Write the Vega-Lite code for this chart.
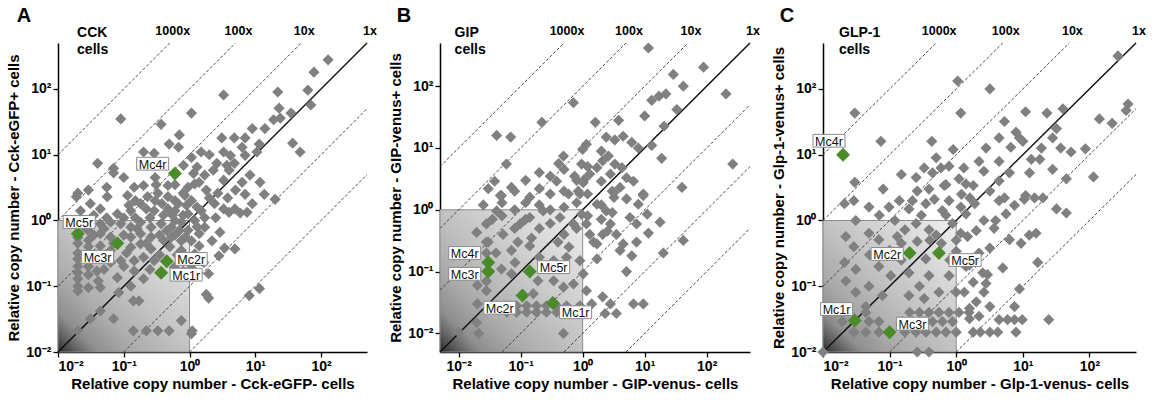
{
"$schema":"https://vega.github.io/schema/vega-lite/v6.json",
"background":"white",
"padding":{"left":6,"top":6,"right":4,"bottom":4},
"bounds":"flush",
"spacing":73,
"config":{"view":{"stroke":null},"font":"Liberation Sans",
"axis":{"domainColor":"#000","domainWidth":1.5,"tickColor":"#000","tickWidth":1.3,"tickSize":5,"labelFont":"Liberation Sans","labelFontSize":14,"labelFontWeight":"bold","labelColor":"#000","titleFont":"Liberation Sans","titleFontSize":15,"titleFontWeight":"bold","titleColor":"#000","grid":false,"labelPadding":2},
"axisX":{"titlePadding":3},"axisY":{"titlePadding":4},
"title":{"anchor":"start","frame":"bounds","fontSize":20,"fontWeight":"bold","font":"Liberation Sans","offset":-1,"color":"#000"}},
"datasets":{
"box":[{"p":"A","x":0.01,"y":0.01,"x2":1,"y2":1},{"p":"B","x":0.005,"y":0.005,"x2":1,"y2":1},{"p":"C","x":0.01,"y":0.01,"x2":1,"y2":1}],
"diag":[
{"p":"A","k":"1000x","x":0.01,"y":10,"x2":0.5,"y2":500,"style":"dashed"},
{"p":"A","k":"100x","x":0.01,"y":1,"x2":5,"y2":500,"style":"dashed"},
{"p":"A","k":"10x","x":0.01,"y":0.1,"x2":50,"y2":500,"style":"dashed"},
{"p":"A","k":"1x","x":0.01,"y":0.01,"x2":500,"y2":500,"style":"solid"},
{"p":"A","k":"0.1x","x":0.1,"y":0.01,"x2":500,"y2":50,"style":"dashed"},
{"p":"A","k":"0.01x","x":1,"y":0.01,"x2":500,"y2":5,"style":"dashed"},
{"p":"B","k":"1000x","x":0.005,"y":5,"x2":0.5,"y2":500,"style":"dashed"},
{"p":"B","k":"100x","x":0.005,"y":0.5,"x2":5,"y2":500,"style":"dashed"},
{"p":"B","k":"10x","x":0.005,"y":0.05,"x2":50,"y2":500,"style":"dashed"},
{"p":"B","k":"1x","x":0.005,"y":0.005,"x2":500,"y2":500,"style":"solid"},
{"p":"B","k":"0.1x","x":0.05,"y":0.005,"x2":500,"y2":50,"style":"dashed"},
{"p":"B","k":"0.01x","x":0.5,"y":0.005,"x2":500,"y2":5,"style":"dashed"},
{"p":"B","k":"0.001x","x":5,"y":0.005,"x2":500,"y2":0.5,"style":"dashed"},
{"p":"C","k":"1000x","x":0.01,"y":10,"x2":0.5,"y2":500,"style":"dashed"},
{"p":"C","k":"100x","x":0.01,"y":1,"x2":5,"y2":500,"style":"dashed"},
{"p":"C","k":"10x","x":0.01,"y":0.1,"x2":50,"y2":500,"style":"dashed"},
{"p":"C","k":"1x","x":0.01,"y":0.01,"x2":500,"y2":500,"style":"solid"},
{"p":"C","k":"0.1x","x":0.1,"y":0.01,"x2":500,"y2":50,"style":"dashed"},
{"p":"C","k":"0.01x","x":1,"y":0.01,"x2":500,"y2":5,"style":"dashed"}],
"diaglab":[
{"p":"A","label":"1000x","x":0.5,"y":500},{"p":"A","label":"100x","x":5,"y":500},{"p":"A","label":"10x","x":50,"y":500},{"p":"A","label":"1x","x":500,"y":500},
{"p":"B","label":"1000x","x":0.5,"y":500},{"p":"B","label":"100x","x":5,"y":500},{"p":"B","label":"10x","x":50,"y":500},{"p":"B","label":"1x","x":500,"y":500},
{"p":"C","label":"1000x","x":0.5,"y":500},{"p":"C","label":"100x","x":5,"y":500},{"p":"C","label":"10x","x":50,"y":500},{"p":"C","label":"1x","x":500,"y":500}],
"cell":[{"p":"A","label":"CCK\ncells","x":0.0195,"y":500},{"p":"B","label":"GIP\ncells","x":0.0086,"y":500},{"p":"C","label":"GLP-1\ncells","x":0.0174,"y":500}],
"mc":[
{"p":"A","gene":"Mc4r","x":0.6,"y":5.2},{"p":"A","gene":"Mc5r","x":0.02,"y":0.63},{"p":"A","gene":"Mc3r","x":0.08,"y":0.45},{"p":"A","gene":"Mc2r","x":0.45,"y":0.24},{"p":"A","gene":"Mc1r","x":0.37,"y":0.16},
{"p":"B","gene":"Mc4r","x":0.03,"y":0.14},{"p":"B","gene":"Mc3r","x":0.03,"y":0.1},{"p":"B","gene":"Mc5r","x":0.14,"y":0.1},{"p":"B","gene":"Mc2r","x":0.107,"y":0.041},{"p":"B","gene":"Mc1r","x":0.33,"y":0.031},
{"p":"C","gene":"Mc4r","x":0.02,"y":10},{"p":"C","gene":"Mc2r","x":0.2,"y":0.32},{"p":"C","gene":"Mc5r","x":0.55,"y":0.32},{"p":"C","gene":"Mc1r","x":0.03,"y":0.03},{"p":"C","gene":"Mc3r","x":0.1,"y":0.02}],
"mclab":[
{"p":"A","gene":"Mc4r","x":0.275,"y":7.3},{"p":"A","gene":"Mc5r","x":0.021,"y":0.95},{"p":"A","gene":"Mc3r","x":0.04,"y":0.28},{"p":"A","gene":"Mc2r","x":1.06,"y":0.26},{"p":"A","gene":"Mc1r","x":0.89,"y":0.15},
{"p":"B","gene":"Mc4r","x":0.0125,"y":0.2},{"p":"B","gene":"Mc3r","x":0.0125,"y":0.092},{"p":"B","gene":"Mc5r","x":0.34,"y":0.118},{"p":"B","gene":"Mc2r","x":0.046,"y":0.026},{"p":"B","gene":"Mc1r","x":0.77,"y":0.022},
{"p":"C","gene":"Mc4r","x":0.0123,"y":16.3},{"p":"C","gene":"Mc2r","x":0.092,"y":0.31},{"p":"C","gene":"Mc5r","x":1.36,"y":0.25},{"p":"C","gene":"Mc1r","x":0.016,"y":0.045},{"p":"C","gene":"Mc3r","x":0.22,"y":0.027}],
"pts":[
{"p":"A","x":0.09,"y":35},{"p":"A","x":1.07,"y":43},{"p":"A","x":0.37,"y":29},{"p":"A","x":0.7,"y":20},{"p":"A","x":0.49,"y":14.5},{"p":"A","x":0.68,"y":13},{"p":"A","x":0.2,"y":11},{"p":"A","x":0.29,"y":10.5},{"p":"A","x":0.04,"y":7.4},{"p":"A","x":0.07,"y":6.2},{"p":"A","x":0.07,"y":5.3},{"p":"A","x":0.81,"y":6.9},{"p":"A","x":1.15,"y":5.2},{"p":"A","x":0.2,"y":3.4},{"p":"A","x":0.31,"y":3.5},{"p":"A","x":1.2,"y":3.6},{"p":"A","x":0.02,"y":2.6},{"p":"A","x":0.029,"y":2.9},{"p":"A","x":0.8,"y":2.6},
{"p":"A","x":128,"y":277},{"p":"A","x":78,"y":180},{"p":"A","x":63,"y":96},{"p":"A","x":22,"y":90},{"p":"A","x":3.3,"y":81},{"p":"A","x":70,"y":57},{"p":"A","x":23,"y":51},{"p":"A","x":35,"y":43},{"p":"A","x":24,"y":36},{"p":"A","x":19,"y":34},{"p":"A","x":14,"y":25},{"p":"A","x":9,"y":25},{"p":"A","x":11.5,"y":14.5},{"p":"A","x":7,"y":18},{"p":"A","x":4.8,"y":18},{"p":"A","x":3.1,"y":18},{"p":"A","x":6.3,"y":13},{"p":"A","x":37,"y":15},{"p":"A","x":48,"y":11},{"p":"A","x":1.5,"y":11},{"p":"A","x":2,"y":10},{"p":"A","x":3.3,"y":11},{"p":"A","x":4.2,"y":9.7},{"p":"A","x":1.07,"y":9.1},{"p":"A","x":2.6,"y":7.4},{"p":"A","x":1.3,"y":6.5},{"p":"A","x":4.8,"y":7.4},{"p":"A","x":7,"y":9.8},{"p":"A","x":10.6,"y":11},{"p":"A","x":3.7,"y":6.9},{"p":"A","x":2.3,"y":5.8},{"p":"A","x":1.7,"y":4.9},{"p":"A","x":6.3,"y":3.8},{"p":"A","x":8.3,"y":4.9},{"p":"A","x":11.8,"y":3.8},{"p":"A","x":7,"y":2.5},{"p":"A","x":13.7,"y":2.5},{"p":"A","x":20,"y":2.1},{"p":"A","x":1.4,"y":3.8},{"p":"A","x":3.3,"y":4.1},{"p":"A","x":4,"y":5.8},{"p":"A","x":1.8,"y":2.9},
{"p":"A","x":5.9,"y":1.3},{"p":"A","x":7.5,"y":1.33},{"p":"A","x":4,"y":1.33},{"p":"A","x":2.9,"y":0.66},{"p":"A","x":4.9,"y":0.37},{"p":"A","x":3.4,"y":0.38},{"p":"A","x":2.8,"y":0.29},{"p":"A","x":2.2,"y":0.49},{"p":"A","x":1.95,"y":0.155},{"p":"A","x":1.95,"y":0.066},{"p":"A","x":1.8,"y":0.075},{"p":"A","x":8.1,"y":0.072},{"p":"A","x":11.6,"y":0.092},{"p":"A","x":1.07,"y":0.019},
{"p":"A","x":0.044,"y":0.89},{"p":"A","x":0.063,"y":0.94},{"p":"A","x":0.09,"y":0.89},{"p":"A","x":0.128,"y":0.79},{"p":"A","x":0.18,"y":0.94},{"p":"A","x":0.26,"y":0.79},{"p":"A","x":0.37,"y":0.89},{"p":"A","x":0.53,"y":0.79},{"p":"A","x":0.75,"y":0.94},{"p":"A","x":0.95,"y":0.71},{"p":"A","x":0.044,"y":0.63},{"p":"A","x":0.063,"y":0.56},{"p":"A","x":0.128,"y":0.56},{"p":"A","x":0.18,"y":0.63},{"p":"A","x":0.26,"y":0.56},{"p":"A","x":0.53,"y":0.56},{"p":"A","x":0.75,"y":0.49},{"p":"A","x":0.044,"y":0.41},{"p":"A","x":0.063,"y":0.35},{"p":"A","x":0.128,"y":0.39},{"p":"A","x":0.18,"y":0.44},{"p":"A","x":0.26,"y":0.37},{"p":"A","x":0.75,"y":0.35},{"p":"A","x":0.95,"y":0.275},{"p":"A","x":0.044,"y":0.275},{"p":"A","x":0.063,"y":0.23},{"p":"A","x":0.09,"y":0.245},{"p":"A","x":0.144,"y":0.245},{"p":"A","x":0.2,"y":0.275},{"p":"A","x":0.29,"y":0.245},{"p":"A","x":0.59,"y":0.195},{"p":"A","x":0.8,"y":0.17},{"p":"A","x":0.039,"y":0.17},{"p":"A","x":0.144,"y":0.17},{"p":"A","x":0.08,"y":0.135},{"p":"A","x":0.2,"y":0.13},{"p":"A","x":0.128,"y":0.1},{"p":"A","x":0.044,"y":0.096},
{"p":"A","x":0.022,"y":1.4},{"p":"A","x":0.031,"y":1.8},{"p":"A","x":0.044,"y":1.5},{"p":"A","x":0.08,"y":1.26},{"p":"A","x":0.128,"y":1.4},{"p":"A","x":0.18,"y":1.8},{"p":"A","x":0.29,"y":1.4},{"p":"A","x":0.47,"y":1.5},{"p":"A","x":0.67,"y":1.8},{"p":"A","x":0.95,"y":1.26},{"p":"A","x":0.019,"y":2.3},{"p":"A","x":0.056,"y":2.3},{"p":"A","x":0.114,"y":2.4},{"p":"A","x":0.23,"y":2.3},{"p":"A","x":0.47,"y":2.3},{"p":"A","x":0.85,"y":2.4},
{"p":"A","x":0.144,"y":3.2},{"p":"A","x":0.33,"y":2.6},{"p":"A","x":0.47,"y":3.4},{"p":"A","x":0.95,"y":3.2},
{"p":"A","x":1.07,"y":2.0},{"p":"A","x":1.5,"y":1.4},{"p":"A","x":1.2,"y":1.0},{"p":"A","x":1.7,"y":0.79},{"p":"A","x":1.4,"y":0.63},{"p":"A","x":1.07,"y":0.49},{"p":"A","x":1.4,"y":0.41},{"p":"A","x":1.2,"y":0.31},{"p":"A","x":1.65,"y":0.23},{"p":"A","x":1.07,"y":0.19},{"p":"A","x":2.4,"y":1.8},{"p":"A","x":3.3,"y":1.5},{"p":"A","x":4.9,"y":1.5},
{"p":"A","x":0.02,"y":0.55},{"p":"A","x":0.02,"y":0.45},{"p":"A","x":0.02,"y":0.32},{"p":"A","x":0.02,"y":0.26},{"p":"A","x":0.02,"y":0.2},{"p":"A","x":0.02,"y":0.16},{"p":"A","x":0.02,"y":0.13},{"p":"A","x":0.02,"y":0.1},{"p":"A","x":0.02,"y":0.085},
{"p":"A","x":0.029,"y":0.9},{"p":"A","x":0.029,"y":0.7},{"p":"A","x":0.029,"y":0.5},{"p":"A","x":0.029,"y":0.4},{"p":"A","x":0.029,"y":0.3},{"p":"A","x":0.029,"y":0.25},{"p":"A","x":0.029,"y":0.2},
{"p":"A","x":0.02,"y":0.021},{"p":"A","x":0.031,"y":0.032},{"p":"A","x":0.044,"y":0.042},{"p":"A","x":0.07,"y":0.032},{"p":"A","x":0.084,"y":0.08},{"p":"A","x":0.14,"y":0.06},{"p":"A","x":0.17,"y":0.06},{"p":"A","x":0.14,"y":0.021},{"p":"A","x":0.22,"y":0.021},{"p":"A","x":0.33,"y":0.021},{"p":"A","x":0.49,"y":0.021},{"p":"A","x":0.75,"y":0.03},{"p":"A","x":1.1,"y":0.021},{"p":"A","x":0.029,"y":0.095},{"p":"A","x":0.041,"y":0.12},{"p":"A","x":0.029,"y":0.15},
{"p":"A","x":0.1,"y":0.6},{"p":"A","x":0.1,"y":1.1},{"p":"A","x":0.35,"y":0.6},{"p":"A","x":0.4,"y":1.2},{"p":"A","x":0.6,"y":1.0},{"p":"A","x":0.6,"y":0.6},{"p":"A","x":0.35,"y":0.3},{"p":"A","x":0.5,"y":0.4},{"p":"A","x":0.7,"y":0.7},{"p":"A","x":0.25,"y":1.1},{"p":"A","x":0.15,"y":1.1},{"p":"A","x":0.055,"y":1.1},{"p":"A","x":0.035,"y":1.2},{"p":"A","x":0.6,"y":1.4},{"p":"A","x":0.8,"y":1.2},{"p":"A","x":0.3,"y":2.0},{"p":"A","x":0.6,"y":2.0},{"p":"A","x":0.15,"y":2.0},{"p":"A","x":1.3,"y":1.6},{"p":"A","x":2,"y":2.2},{"p":"A","x":2.7,"y":2.6},{"p":"A","x":3.8,"y":2.2},{"p":"A","x":1.7,"y":1.1},{"p":"A","x":2.5,"y":1.1},{"p":"A","x":5,"y":2.9},{"p":"A","x":9,"y":1.8},
{"p":"A","x":0.025,"y":1.0},{"p":"A","x":0.025,"y":0.8},{"p":"A","x":0.035,"y":0.6},{"p":"A","x":0.05,"y":0.75},{"p":"A","x":0.07,"y":0.45},{"p":"A","x":0.11,"y":0.32},{"p":"A","x":0.16,"y":0.75},{"p":"A","x":0.22,"y":0.45},{"p":"A","x":0.4,"y":0.5},{"p":"A","x":0.45,"y":0.7},{"p":"A","x":0.65,"y":0.3},{"p":"A","x":0.85,"y":0.55},{"p":"A","x":0.12,"y":1.7},{"p":"A","x":0.22,"y":1.5},{"p":"A","x":0.38,"y":1.8},{"p":"A","x":0.55,"y":1.2},{"p":"A","x":1.3,"y":0.8},{"p":"A","x":0.9,"y":1.7},{"p":"A","x":0.05,"y":0.18},{"p":"A","x":0.1,"y":0.2},{"p":"A","x":0.25,"y":0.18},{"p":"A","x":0.055,"y":3.2},{"p":"A","x":0.1,"y":4.5},{"p":"A","x":0.3,"y":4.5},{"p":"A","x":0.6,"y":3.5},
{"p":"B","x":0.71,"y":54},{"p":"B","x":0.22,"y":26},{"p":"B","x":0.041,"y":16},{"p":"B","x":0.069,"y":15},{"p":"B","x":0.059,"y":5.5},{"p":"B","x":0.49,"y":7.4},{"p":"B","x":0.41,"y":5.6},{"p":"B","x":0.038,"y":2.9},{"p":"B","x":0.03,"y":2.2},{"p":"B","x":0.049,"y":1.7},{"p":"B","x":0.071,"y":2.3},{"p":"B","x":0.14,"y":1.6},{"p":"B","x":0.38,"y":2.9},{"p":"B","x":0.74,"y":3.5},{"p":"B","x":1.0,"y":9.5},{"p":"B","x":0.96,"y":5.5},{"p":"B","x":0.85,"y":2.0},{"p":"B","x":0.59,"y":1.8},{"p":"B","x":1.06,"y":3.1},
{"p":"B","x":11.5,"y":415},{"p":"B","x":89,"y":203},{"p":"B","x":29,"y":155},{"p":"B","x":42,"y":100},{"p":"B","x":205,"y":75},{"p":"B","x":22,"y":75},{"p":"B","x":17,"y":69},{"p":"B","x":13,"y":59},{"p":"B","x":33,"y":42},{"p":"B","x":10,"y":33},{"p":"B","x":3.8,"y":28},{"p":"B","x":1.6,"y":26},{"p":"B","x":20.5,"y":22.5},{"p":"B","x":1.15,"y":11.5},{"p":"B","x":2.4,"y":15},{"p":"B","x":3.3,"y":13.5},{"p":"B","x":4.5,"y":15.5},{"p":"B","x":6.2,"y":12.3},{"p":"B","x":7.9,"y":10},{"p":"B","x":13,"y":11},{"p":"B","x":18.8,"y":6.8},{"p":"B","x":263,"y":5.5},{"p":"B","x":2.0,"y":8.9},{"p":"B","x":2.6,"y":7.4},{"p":"B","x":2.1,"y":6.2},{"p":"B","x":1.7,"y":4.8},{"p":"B","x":3.3,"y":5.5},{"p":"B","x":2.8,"y":3.8},{"p":"B","x":4.3,"y":4.8},{"p":"B","x":5.1,"y":3.3},{"p":"B","x":6.6,"y":2.9},{"p":"B","x":4.0,"y":2.3},{"p":"B","x":3.2,"y":1.9},{"p":"B","x":2.0,"y":2.9},{"p":"B","x":1.3,"y":3.8},{"p":"B","x":1.02,"y":2.75},{"p":"B","x":0.9,"y":1.8},{"p":"B","x":9.5,"y":1.7},{"p":"B","x":40,"y":2.3},
{"p":"B","x":0.047,"y":1.7},{"p":"B","x":0.0195,"y":0.43},{"p":"B","x":0.052,"y":0.4},{"p":"B","x":0.098,"y":0.59},{"p":"B","x":0.14,"y":0.75},{"p":"B","x":0.23,"y":0.96},{"p":"B","x":0.43,"y":0.75},{"p":"B","x":0.71,"y":0.59},{"p":"B","x":0.96,"y":0.85},{"p":"B","x":0.041,"y":0.96},{"p":"B","x":0.028,"y":0.59},{"p":"B","x":0.071,"y":0.22},{"p":"B","x":0.14,"y":0.26},{"p":"B","x":0.2,"y":0.17},{"p":"B","x":0.34,"y":0.15},{"p":"B","x":0.55,"y":0.17},{"p":"B","x":0.9,"y":0.15},{"p":"B","x":0.081,"y":0.14},{"p":"B","x":0.049,"y":0.11},{"p":"B","x":0.071,"y":0.092},{"p":"B","x":0.19,"y":0.071},{"p":"B","x":0.34,"y":0.071},{"p":"B","x":0.49,"y":0.056},{"p":"B","x":0.71,"y":0.063},{"p":"B","x":1.02,"y":0.092},{"p":"B","x":0.0195,"y":0.015},{"p":"B","x":0.16,"y":0.044},{"p":"B","x":0.01,"y":0.0105},{"p":"B","x":0.021,"y":0.01},{"p":"B","x":0.49,"y":0.01},{"p":"B","x":0.02,"y":0.03},{"p":"B","x":0.028,"y":0.049},
{"p":"B","x":0.041,"y":0.028},{"p":"B","x":0.06,"y":0.028},{"p":"B","x":0.086,"y":0.028},{"p":"B","x":0.125,"y":0.028},{"p":"B","x":0.18,"y":0.028},{"p":"B","x":0.26,"y":0.028},{"p":"B","x":0.38,"y":0.028},{"p":"B","x":0.55,"y":0.028},{"p":"B","x":0.9,"y":0.028},
{"p":"B","x":0.06,"y":0.022},{"p":"B","x":0.086,"y":0.022},{"p":"B","x":0.125,"y":0.022},{"p":"B","x":0.18,"y":0.022},{"p":"B","x":0.26,"y":0.022},{"p":"B","x":0.38,"y":0.022},
{"p":"B","x":17.7,"y":0.63},{"p":"B","x":11.5,"y":0.42},{"p":"B","x":42,"y":0.32},{"p":"B","x":7.4,"y":0.3},{"p":"B","x":4.0,"y":0.22},{"p":"B","x":6.2,"y":0.18},{"p":"B","x":20,"y":0.2},{"p":"B","x":5.1,"y":0.1},{"p":"B","x":1.7,"y":0.16},{"p":"B","x":6.6,"y":0.03},{"p":"B","x":9.5,"y":0.03},{"p":"B","x":2.8,"y":0.03},{"p":"B","x":2.1,"y":0.039},{"p":"B","x":3.5,"y":0.021},{"p":"B","x":2.3,"y":0.021},{"p":"B","x":1.15,"y":0.049},{"p":"B","x":1.4,"y":0.03},
{"p":"B","x":1.7,"y":0.28},{"p":"B","x":2.1,"y":0.4},{"p":"B","x":2.8,"y":0.59},{"p":"B","x":3.5,"y":0.4},{"p":"B","x":4.5,"y":0.28},{"p":"B","x":2.4,"y":0.96},{"p":"B","x":1.7,"y":1.23},{"p":"B","x":3.2,"y":1.58},{"p":"B","x":5.1,"y":1.5},{"p":"B","x":7.9,"y":1.23},{"p":"B","x":9.5,"y":1.8},{"p":"B","x":5.8,"y":0.75},{"p":"B","x":11,"y":0.85},{"p":"B","x":7.4,"y":0.59},{"p":"B","x":1.15,"y":0.59},{"p":"B","x":1.3,"y":0.4},
{"p":"B","x":0.05,"y":0.8},{"p":"B","x":0.05,"y":1.3},{"p":"B","x":0.08,"y":0.5},{"p":"B","x":0.08,"y":1},{"p":"B","x":0.08,"y":2},{"p":"B","x":0.12,"y":0.7},{"p":"B","x":0.12,"y":1.3},{"p":"B","x":0.12,"y":3},{"p":"B","x":0.2,"y":0.5},{"p":"B","x":0.2,"y":1.2},{"p":"B","x":0.2,"y":2.2},{"p":"B","x":0.2,"y":4},{"p":"B","x":0.3,"y":0.6},{"p":"B","x":0.3,"y":1},{"p":"B","x":0.3,"y":1.8},{"p":"B","x":0.3,"y":3.5},{"p":"B","x":0.5,"y":0.4},{"p":"B","x":0.5,"y":1.1},{"p":"B","x":0.5,"y":2},{"p":"B","x":0.5,"y":4.5},{"p":"B","x":0.8,"y":0.5},{"p":"B","x":0.8,"y":1.3},{"p":"B","x":0.8,"y":3},{"p":"B","x":1.2,"y":0.8},{"p":"B","x":1.2,"y":1.8},{"p":"B","x":1.2,"y":5},{"p":"B","x":2,"y":1.2},{"p":"B","x":2,"y":0.7},{"p":"B","x":3,"y":2},{"p":"B","x":3,"y":0.9},{"p":"B","x":0.15,"y":0.35},{"p":"B","x":0.4,"y":0.3},{"p":"B","x":0.6,"y":0.25},{"p":"B","x":1.5,"y":0.3},{"p":"B","x":2.5,"y":0.45},{"p":"B","x":0.03,"y":0.3},{"p":"B","x":0.035,"y":0.7},{"p":"B","x":0.025,"y":1.2},{"p":"B","x":0.04,"y":0.2},{"p":"B","x":0.09,"y":0.3},{"p":"B","x":0.028,"y":0.2},{"p":"B","x":0.028,"y":0.3},{"p":"B","x":0.02,"y":0.06},{"p":"B","x":0.028,"y":0.07},
{"p":"C","x":0.03,"y":43},{"p":"C","x":0.074,"y":16},{"p":"C","x":0.03,"y":3.8},{"p":"C","x":1.05,"y":132},{"p":"C","x":1.17,"y":43},{"p":"C","x":0.43,"y":16},{"p":"C","x":0.33,"y":6.3},{"p":"C","x":0.25,"y":4.5},{"p":"C","x":0.44,"y":5.3},{"p":"C","x":0.59,"y":6.3},{"p":"C","x":0.78,"y":6.7},{"p":"C","x":1.3,"y":6.3},{"p":"C","x":0.39,"y":3.0},{"p":"C","x":0.26,"y":2.8},{"p":"C","x":0.66,"y":3.4},{"p":"C","x":1.1,"y":4.3},{"p":"C","x":1.4,"y":3.6},{"p":"C","x":0.22,"y":2.0},
{"p":"C","x":268,"y":318},{"p":"C","x":3.2,"y":100},{"p":"C","x":11,"y":45},{"p":"C","x":23,"y":43},{"p":"C","x":40,"y":50},{"p":"C","x":380,"y":59},{"p":"C","x":355,"y":47},{"p":"C","x":141,"y":35},{"p":"C","x":219,"y":30},{"p":"C","x":5.3,"y":32},{"p":"C","x":4.4,"y":18},{"p":"C","x":7.9,"y":22},{"p":"C","x":8.9,"y":18},{"p":"C","x":10,"y":16},{"p":"C","x":6.6,"y":13},{"p":"C","x":2.8,"y":12.6},{"p":"C","x":32,"y":25},{"p":"C","x":28,"y":18},{"p":"C","x":19,"y":12.6},{"p":"C","x":37,"y":12.6},{"p":"C","x":53,"y":11},{"p":"C","x":87,"y":12.3},{"p":"C","x":18,"y":8.5},{"p":"C","x":13.4,"y":8.5},{"p":"C","x":28,"y":6},{"p":"C","x":45,"y":4.3},{"p":"C","x":115,"y":4.6},{"p":"C","x":12.6,"y":5.3},{"p":"C","x":6.3,"y":5.3},{"p":"C","x":4.4,"y":7.9},{"p":"C","x":2.2,"y":7.9},{"p":"C","x":2.6,"y":5.6},{"p":"C","x":1.8,"y":3.4},{"p":"C","x":3.2,"y":2.8},{"p":"C","x":5.3,"y":2.2},{"p":"C","x":11,"y":2.4},{"p":"C","x":15,"y":2.2},{"p":"C","x":4.4,"y":4.0},
{"p":"C","x":32,"y":1.5},{"p":"C","x":45,"y":1.3},{"p":"C","x":16.7,"y":0.23},{"p":"C","x":5.0,"y":0.19},{"p":"C","x":8.9,"y":0.091},{"p":"C","x":7.5,"y":0.049},{"p":"C","x":24.5,"y":0.031},{"p":"C","x":7.9,"y":0.02},{"p":"C","x":12.5,"y":0.6},{"p":"C","x":15.8,"y":0.64},{"p":"C","x":9.4,"y":0.45},{"p":"C","x":6.3,"y":0.51},{"p":"C","x":3.7,"y":0.76},{"p":"C","x":2.95,"y":0.15},{"p":"C","x":2.8,"y":0.11},{"p":"C","x":2.6,"y":0.081},{"p":"C","x":2.0,"y":0.058},{"p":"C","x":3.2,"y":0.049},{"p":"C","x":4.4,"y":0.031},{"p":"C","x":5.9,"y":0.031},{"p":"C","x":7.5,"y":0.031},{"p":"C","x":9.8,"y":0.031},{"p":"C","x":1.8,"y":0.02},{"p":"C","x":2.3,"y":0.02},{"p":"C","x":3.2,"y":0.02},{"p":"C","x":4.2,"y":0.02},
{"p":"C","x":1.58,"y":0.032},{"p":"C","x":2.2,"y":0.035},{"p":"C","x":1.58,"y":0.046},{"p":"C","x":1.32,"y":0.081},{"p":"C","x":1.8,"y":0.115},{"p":"C","x":2.5,"y":0.16},{"p":"C","x":1.58,"y":0.21},{"p":"C","x":2.2,"y":0.32},{"p":"C","x":3.2,"y":0.38},{"p":"C","x":2.6,"y":1.0},{"p":"C","x":3.9,"y":1.0},{"p":"C","x":5.6,"y":1.26},{"p":"C","x":1.4,"y":1.26},{"p":"C","x":1.9,"y":1.8},{"p":"C","x":4.4,"y":2.0},{"p":"C","x":20,"y":2.2},{"p":"C","x":10.5,"y":2.1},{"p":"C","x":7.5,"y":1.7},
{"p":"C","x":0.021,"y":1.8},{"p":"C","x":0.031,"y":1.0},{"p":"C","x":0.022,"y":0.57},{"p":"C","x":0.029,"y":0.4},{"p":"C","x":0.021,"y":0.23},{"p":"C","x":0.031,"y":0.18},{"p":"C","x":0.049,"y":0.64},{"p":"C","x":0.069,"y":0.51},{"p":"C","x":0.098,"y":1.6},{"p":"C","x":0.13,"y":0.57},{"p":"C","x":0.17,"y":0.72},{"p":"C","x":0.26,"y":0.48},{"p":"C","x":0.39,"y":0.72},{"p":"C","x":0.62,"y":1.42},{"p":"C","x":0.88,"y":0.9},{"p":"C","x":1.17,"y":0.64},{"p":"C","x":1.17,"y":1.6},{"p":"C","x":1.48,"y":0.57},{"p":"C","x":0.069,"y":0.2},{"p":"C","x":0.104,"y":0.145},{"p":"C","x":0.195,"y":0.16},{"p":"C","x":0.28,"y":0.1},{"p":"C","x":0.39,"y":0.145},{"p":"C","x":0.78,"y":0.145},{"p":"C","x":1.4,"y":0.2},{"p":"C","x":0.049,"y":0.1},{"p":"C","x":0.031,"y":0.081},{"p":"C","x":0.078,"y":0.072},{"p":"C","x":0.195,"y":0.072},{"p":"C","x":0.33,"y":0.065},{"p":"C","x":0.55,"y":0.081},{"p":"C","x":1.0,"y":0.081},{"p":"C","x":1.0,"y":0.34},{"p":"C","x":0.35,"y":0.26},{"p":"C","x":0.022,"y":0.12},{"p":"C","x":0.044,"y":0.049},
{"p":"C","x":0.029,"y":2.0},{"p":"C","x":0.049,"y":1.6},{"p":"C","x":0.14,"y":2.0},{"p":"C","x":0.195,"y":1.5},{"p":"C","x":0.35,"y":1.8},{"p":"C","x":0.47,"y":2.1},{"p":"C","x":0.78,"y":2.0},{"p":"C","x":1.6,"y":2.2},
{"p":"C","x":0.029,"y":0.02},{"p":"C","x":0.044,"y":0.02},{"p":"C","x":0.069,"y":0.02},{"p":"C","x":0.17,"y":0.02},{"p":"C","x":0.25,"y":0.02},{"p":"C","x":0.35,"y":0.02},{"p":"C","x":0.5,"y":0.02},{"p":"C","x":0.7,"y":0.02},{"p":"C","x":1.0,"y":0.02},
{"p":"C","x":0.0195,"y":0.029},{"p":"C","x":0.049,"y":0.029},{"p":"C","x":0.069,"y":0.029},{"p":"C","x":0.155,"y":0.029},{"p":"C","x":0.22,"y":0.029},{"p":"C","x":0.31,"y":0.029},{"p":"C","x":0.44,"y":0.029},{"p":"C","x":0.62,"y":0.029},{"p":"C","x":0.88,"y":0.029},
{"p":"C","x":0.044,"y":0.04},{"p":"C","x":0.2,"y":0.04},{"p":"C","x":0.28,"y":0.04},{"p":"C","x":0.39,"y":0.04},{"p":"C","x":0.55,"y":0.04},{"p":"C","x":0.78,"y":0.04},{"p":"C","x":1.1,"y":0.04},{"p":"C","x":1.56,"y":0.04},
{"p":"C","x":0.01,"y":0.01},{"p":"C","x":0.26,"y":0.01},{"p":"C","x":0.39,"y":0.01},
{"p":"C","x":0.05,"y":0.3},{"p":"C","x":0.07,"y":1.2},{"p":"C","x":0.1,"y":0.35},{"p":"C","x":0.12,"y":1},{"p":"C","x":0.15,"y":0.25},{"p":"C","x":0.25,"y":0.9},{"p":"C","x":0.3,"y":1.2},{"p":"C","x":0.5,"y":0.6},{"p":"C","x":0.6,"y":0.45},{"p":"C","x":0.7,"y":1.2},{"p":"C","x":1,"y":0.5},{"p":"C","x":1.2,"y":2.5},{"p":"C","x":2,"y":0.7},{"p":"C","x":0.4,"y":0.5},{"p":"C","x":0.8,"y":0.25},{"p":"C","x":0.15,"y":0.45},{"p":"C","x":0.7,"y":3.5},{"p":"C","x":0.5,"y":9},{"p":"C","x":0.9,"y":12},{"p":"C","x":0.15,"y":5},{"p":"C","x":0.08,"y":3}]
},
"hconcat":[
{"width":309,"height":309,"title":{"text":"A","dx":10},
"encoding":{
"x":{"field":"x","type":"quantitative","scale":{"type":"log","domain":[0.01,500],"nice":false},"axis":{"title":"Relative copy number - Cck-eGFP- cells","values":[0.01,0.1,1,10,100],"labelExpr":"datum.value < 0.05 ? '10⁻²' : datum.value < 0.5 ? '10⁻¹' : datum.value < 5 ? '10⁰' : datum.value < 50 ? '10¹' : '10²'"}},
"y":{"field":"y","type":"quantitative","scale":{"type":"log","domain":[0.01,500],"nice":false},"axis":{"title":"Relative copy number - Cck-eGFP+ cells","values":[0.01,0.1,1,10,100],"labelExpr":"datum.value < 0.05 ? '10⁻²' : datum.value < 0.5 ? '10⁻¹' : datum.value < 5 ? '10⁰' : datum.value < 50 ? '10¹' : '10²'"}}},
"layer":[
{"data":{"name":"box"},"transform":[{"filter":"datum.p=='A'"}],"mark":{"type":"rect","fill":{"gradient":"linear","x1":0,"y1":1,"x2":1,"y2":0,"stops":[{"offset":0,"color":"#2a2a2a"},{"offset":0.06,"color":"#555555"},{"offset":0.15,"color":"#8e8e8e"},{"offset":0.3,"color":"#ababab"},{"offset":0.5,"color":"#c2c2c2"},{"offset":0.75,"color":"#d9d9d9"},{"offset":1,"color":"#f0f0f0"}]},"stroke":"#8c8c8c","strokeWidth":1},"encoding":{"x2":{"field":"x2"},"y2":{"field":"y2"}}},
{"data":{"name":"diag"},"transform":[{"filter":"datum.p=='A' && datum.style=='dashed'"}],"mark":{"type":"rule","color":"#444","strokeWidth":1,"strokeDash":[3,2]},"encoding":{"x2":{"field":"x2"},"y2":{"field":"y2"}}},
{"data":{"name":"diag"},"transform":[{"filter":"datum.p=='A' && datum.style=='solid'"}],"mark":{"type":"rule","color":"#111","strokeWidth":1.5},"encoding":{"x2":{"field":"x2"},"y2":{"field":"y2"}}},
{"data":{"name":"diaglab"},"transform":[{"filter":"datum.p=='A'"}],"mark":{"type":"text","fontSize":12.5,"fontWeight":"bold","baseline":"bottom","align":"center","dx":3,"dy":-5,"color":"#000"},"encoding":{"text":{"field":"label"}}},
{"data":{"name":"cell"},"transform":[{"filter":"datum.p=='A'"}],"mark":{"type":"text","fontSize":14,"fontWeight":"bold","baseline":"top","align":"left","dy":-17,"lineBreak":"\n","lineHeight":17,"color":"#000"},"encoding":{"text":{"field":"label"}}},
{"data":{"name":"pts"},"transform":[{"filter":"datum.p=='A'"}],"mark":{"type":"point","shape":"diamond","filled":true,"opacity":1,"color":"#808080","size":125,"strokeWidth":0}},
{"data":{"name":"mc"},"transform":[{"filter":"datum.p=='A'"}],"mark":{"type":"point","shape":"diamond","filled":true,"opacity":1,"color":"#4a8c2a","size":195,"strokeWidth":0}},
{"data":{"name":"mclab"},"transform":[{"filter":"datum.p=='A'"}],"mark":{"type":"point","shape":"M-1,-0.4H1V0.4H-1Z","filled":true,"opacity":1,"fill":"white","stroke":"#8a8a8a","strokeWidth":1,"size":1024}},
{"data":{"name":"mclab"},"transform":[{"filter":"datum.p=='A'"}],"mark":{"type":"text","fontSize":12.5,"align":"center","baseline":"middle","dy":1,"color":"#111"},"encoding":{"text":{"field":"gene"}}}
]},
{"width":310,"height":309,"title":{"text":"B","dx":8},
"encoding":{
"x":{"field":"x","type":"quantitative","scale":{"type":"log","domain":[0.005,500],"nice":false},"axis":{"title":"Relative copy number - GIP-venus- cells","values":[0.01,0.1,1,10,100],"labelExpr":"datum.value < 0.05 ? '10⁻²' : datum.value < 0.5 ? '10⁻¹' : datum.value < 5 ? '10⁰' : datum.value < 50 ? '10¹' : '10²'"}},
"y":{"field":"y","type":"quantitative","scale":{"type":"log","domain":[0.005,500],"nice":false},"axis":{"title":"Relative copy number - GIP-venus+ cells","values":[0.01,0.1,1,10,100],"labelExpr":"datum.value < 0.05 ? '10⁻²' : datum.value < 0.5 ? '10⁻¹' : datum.value < 5 ? '10⁰' : datum.value < 50 ? '10¹' : '10²'"}}},
"layer":[
{"data":{"name":"box"},"transform":[{"filter":"datum.p=='B'"}],"mark":{"type":"rect","fill":{"gradient":"linear","x1":0,"y1":1,"x2":1,"y2":0,"stops":[{"offset":0,"color":"#2a2a2a"},{"offset":0.06,"color":"#555555"},{"offset":0.15,"color":"#8e8e8e"},{"offset":0.3,"color":"#ababab"},{"offset":0.5,"color":"#c2c2c2"},{"offset":0.75,"color":"#d9d9d9"},{"offset":1,"color":"#f0f0f0"}]},"stroke":"#8c8c8c","strokeWidth":1},"encoding":{"x2":{"field":"x2"},"y2":{"field":"y2"}}},
{"data":{"name":"diag"},"transform":[{"filter":"datum.p=='B' && datum.style=='dashed'"}],"mark":{"type":"rule","color":"#444","strokeWidth":1,"strokeDash":[3,2]},"encoding":{"x2":{"field":"x2"},"y2":{"field":"y2"}}},
{"data":{"name":"diag"},"transform":[{"filter":"datum.p=='B' && datum.style=='solid'"}],"mark":{"type":"rule","color":"#111","strokeWidth":1.5},"encoding":{"x2":{"field":"x2"},"y2":{"field":"y2"}}},
{"data":{"name":"diaglab"},"transform":[{"filter":"datum.p=='B'"}],"mark":{"type":"text","fontSize":12.5,"fontWeight":"bold","baseline":"bottom","align":"center","dx":3,"dy":-5,"color":"#000"},"encoding":{"text":{"field":"label"}}},
{"data":{"name":"cell"},"transform":[{"filter":"datum.p=='B'"}],"mark":{"type":"text","fontSize":14,"fontWeight":"bold","baseline":"top","align":"left","dy":-17,"lineBreak":"\n","lineHeight":17,"color":"#000"},"encoding":{"text":{"field":"label"}}},
{"data":{"name":"pts"},"transform":[{"filter":"datum.p=='B'"}],"mark":{"type":"point","shape":"diamond","filled":true,"opacity":1,"color":"#808080","size":125,"strokeWidth":0}},
{"data":{"name":"mc"},"transform":[{"filter":"datum.p=='B'"}],"mark":{"type":"point","shape":"diamond","filled":true,"opacity":1,"color":"#4a8c2a","size":195,"strokeWidth":0}},
{"data":{"name":"mclab"},"transform":[{"filter":"datum.p=='B'"}],"mark":{"type":"point","shape":"M-1,-0.4H1V0.4H-1Z","filled":true,"opacity":1,"fill":"white","stroke":"#8a8a8a","strokeWidth":1,"size":1024}},
{"data":{"name":"mclab"},"transform":[{"filter":"datum.p=='B'"}],"mark":{"type":"text","fontSize":12.5,"align":"center","baseline":"middle","dy":1,"color":"#111"},"encoding":{"text":{"field":"gene"}}}
]},
{"width":313,"height":309,"title":{"text":"C","dx":8},
"encoding":{
"x":{"field":"x","type":"quantitative","scale":{"type":"log","domain":[0.01,500],"nice":false},"axis":{"title":"Relative copy number - Glp-1-venus- cells","values":[0.01,0.1,1,10,100],"labelExpr":"datum.value < 0.05 ? '10⁻²' : datum.value < 0.5 ? '10⁻¹' : datum.value < 5 ? '10⁰' : datum.value < 50 ? '10¹' : '10²'"}},
"y":{"field":"y","type":"quantitative","scale":{"type":"log","domain":[0.01,500],"nice":false},"axis":{"title":"Relative copy number - Glp-1-venus+ cells","values":[0.01,0.1,1,10,100],"labelExpr":"datum.value < 0.05 ? '10⁻²' : datum.value < 0.5 ? '10⁻¹' : datum.value < 5 ? '10⁰' : datum.value < 50 ? '10¹' : '10²'"}}},
"layer":[
{"data":{"name":"box"},"transform":[{"filter":"datum.p=='C'"}],"mark":{"type":"rect","fill":{"gradient":"linear","x1":0,"y1":1,"x2":1,"y2":0,"stops":[{"offset":0,"color":"#2a2a2a"},{"offset":0.06,"color":"#555555"},{"offset":0.15,"color":"#8e8e8e"},{"offset":0.3,"color":"#ababab"},{"offset":0.5,"color":"#c2c2c2"},{"offset":0.75,"color":"#d9d9d9"},{"offset":1,"color":"#f0f0f0"}]},"stroke":"#8c8c8c","strokeWidth":1},"encoding":{"x2":{"field":"x2"},"y2":{"field":"y2"}}},
{"data":{"name":"diag"},"transform":[{"filter":"datum.p=='C' && datum.style=='dashed'"}],"mark":{"type":"rule","color":"#444","strokeWidth":1,"strokeDash":[3,2]},"encoding":{"x2":{"field":"x2"},"y2":{"field":"y2"}}},
{"data":{"name":"diag"},"transform":[{"filter":"datum.p=='C' && datum.style=='solid'"}],"mark":{"type":"rule","color":"#111","strokeWidth":1.5},"encoding":{"x2":{"field":"x2"},"y2":{"field":"y2"}}},
{"data":{"name":"diaglab"},"transform":[{"filter":"datum.p=='C'"}],"mark":{"type":"text","fontSize":12.5,"fontWeight":"bold","baseline":"bottom","align":"center","dx":3,"dy":-5,"color":"#000"},"encoding":{"text":{"field":"label"}}},
{"data":{"name":"cell"},"transform":[{"filter":"datum.p=='C'"}],"mark":{"type":"text","fontSize":14,"fontWeight":"bold","baseline":"top","align":"left","dy":-17,"lineBreak":"\n","lineHeight":17,"color":"#000"},"encoding":{"text":{"field":"label"}}},
{"data":{"name":"pts"},"transform":[{"filter":"datum.p=='C'"}],"mark":{"type":"point","shape":"diamond","filled":true,"opacity":1,"color":"#808080","size":125,"strokeWidth":0}},
{"data":{"name":"mc"},"transform":[{"filter":"datum.p=='C'"}],"mark":{"type":"point","shape":"diamond","filled":true,"opacity":1,"color":"#4a8c2a","size":195,"strokeWidth":0}},
{"data":{"name":"mclab"},"transform":[{"filter":"datum.p=='C'"}],"mark":{"type":"point","shape":"M-1,-0.4H1V0.4H-1Z","filled":true,"opacity":1,"fill":"white","stroke":"#8a8a8a","strokeWidth":1,"size":1024}},
{"data":{"name":"mclab"},"transform":[{"filter":"datum.p=='C'"}],"mark":{"type":"text","fontSize":12.5,"align":"center","baseline":"middle","dy":1,"color":"#111"},"encoding":{"text":{"field":"gene"}}}
]}
]
}
